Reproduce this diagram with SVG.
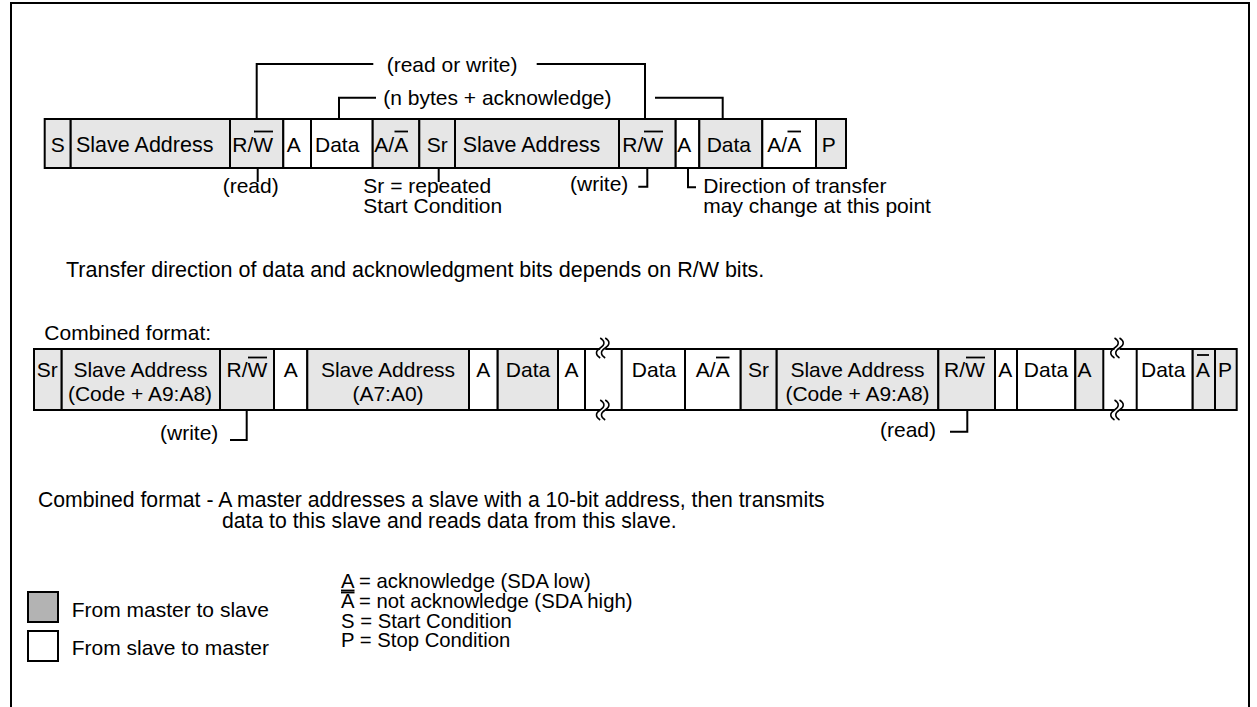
<svg xmlns="http://www.w3.org/2000/svg" xmlns:xlink="http://www.w3.org/1999/xlink" width="1257" height="707" viewBox="0 0 1257 707">
<style>
.t{font-family:"Liberation Sans",Arial,Helvetica,sans-serif;font-size:21px;fill:#000}
.c{text-anchor:middle}
.g{fill:#e6e6e6;stroke:#000;stroke-width:2}
.w{fill:#fff;stroke:#000;stroke-width:2}
.ln{fill:none;stroke:#000;stroke-width:2}
.ov{stroke:#000;stroke-width:1.8}
.s{font-size:20.3px}
</style>
<defs>
<g id="brk">
<rect x="-2.5" y="-2" width="5" height="4" fill="#fff"/>
<path d="M-2.5,-10 c5,3 5,7 0,10 c-5,3 -5,7 0,10 M2.5,-10 c5,3 5,7 0,10 c-5,3 -5,7 0,10" fill="none" stroke="#000" stroke-width="1.5"/>
</g>
</defs>
<rect width="1257" height="707" fill="#fff"/>
<path id="frame" d="M11,712 V3 H1249 V712" fill="none" stroke="#000" stroke-width="2"/>

<g id="row1">
<g id="r1-s"><rect class="g" x="44.7" y="119" width="26" height="49"/><text class="t" x="50.7" y="151.5">S</text></g>
<g id="r1-sa"><rect class="g" x="70.7" y="119" width="159.3" height="49"/><text class="t" x="76" y="151.5" style="font-size:21.5px">Slave Address</text></g>
<g id="r1-rw"><rect class="g" x="230" y="119" width="53.3" height="49"/><text class="t" x="232.3" y="151.5">R/W</text><line class="ov" x1="254" y1="131.5" x2="273" y2="131.5"/></g>
<g id="r1-a"><rect class="w" x="283.3" y="119" width="27.7" height="49"/><text class="t" x="286.7" y="151.5">A</text></g>
<g id="r1-data"><rect class="w" x="311" y="119" width="61.7" height="49"/><text class="t" x="315" y="151.5">Data</text></g>
<g id="r1-aa"><rect class="g" x="372.7" y="119" width="46.6" height="49"/><text class="t" x="374.3" y="151.5">A/A</text><line class="ov" x1="394.5" y1="131.5" x2="408" y2="131.5"/></g>
<g id="r1-sr"><rect class="g" x="419.3" y="119" width="35.7" height="49"/><text class="t" x="426.7" y="151.5">Sr</text></g>
<g id="r1-sa2"><rect class="g" x="455" y="119" width="164" height="49"/><text class="t" x="462.7" y="151.5" style="font-size:21.5px">Slave Address</text></g>
<g id="r1-rw2"><rect class="g" x="619" y="119" width="56.7" height="49"/><text class="t" x="622.3" y="151.5">R/W</text><line class="ov" x1="644" y1="131.5" x2="663" y2="131.5"/></g>
<g id="r1-a2"><rect class="w" x="675.7" y="119" width="23.6" height="49"/><text class="t" x="677.3" y="151.5">A</text></g>
<g id="r1-data2"><rect class="g" x="699.3" y="119" width="63" height="49"/><text class="t" x="706.7" y="151.5">Data</text></g>
<g id="r1-aa2"><rect class="w" x="762.3" y="119" width="53.7" height="49"/><text class="t" x="767.3" y="151.5">A/A</text><line class="ov" x1="787.5" y1="131.5" x2="801" y2="131.5"/></g>
<g id="r1-p"><rect class="g" x="816" y="119" width="30" height="49"/><text class="t" x="821.7" y="151.5">P</text></g>
</g>

<g id="row2">
<g id="r2-sr"><rect class="g" x="34" y="349" width="27.7" height="61"/><text class="t" x="36.7" y="377">Sr</text></g>
<g id="r2-sa"><rect class="g" x="61.7" y="349" width="158.3" height="61"/><text class="t c" x="140.5" y="377">Slave Address</text><text class="t c" x="140" y="401">(Code + A9:A8)</text></g>
<g id="r2-rw"><rect class="g" x="220" y="349" width="54" height="61"/><text class="t c" x="247" y="377">R/W</text><line class="ov" x1="248" y1="357.5" x2="267" y2="357.5"/></g>
<g id="r2-a"><rect class="w" x="274" y="349" width="33.3" height="61"/><text class="t c" x="290.7" y="377">A</text></g>
<g id="r2-sa2"><rect class="g" x="307.3" y="349" width="161.7" height="61"/><text class="t c" x="388" y="377">Slave Address</text><text class="t c" x="388" y="401">(A7:A0)</text></g>
<g id="r2-a2"><rect class="w" x="469" y="349" width="28.7" height="61"/><text class="t c" x="483.3" y="377">A</text></g>
<g id="r2-data"><rect class="g" x="497.7" y="349" width="60.3" height="61"/><text class="t c" x="528" y="377">Data</text></g>
<g id="r2-a3"><rect class="w" x="558" y="349" width="27" height="61"/><text class="t c" x="571.5" y="377">A</text></g>
<g id="r2-gap1"><line class="ln" x1="585" y1="349" x2="621.7" y2="349"/><line class="ln" x1="585" y1="410" x2="621.7" y2="410"/><use xlink:href="#brk" href="#brk" transform="translate(602.7,348)"/><use xlink:href="#brk" href="#brk" transform="translate(602.7,410)"/></g>
<g id="r2-data2"><rect class="w" x="621.7" y="349" width="63.3" height="61"/><text class="t c" x="654" y="377">Data</text></g>
<g id="r2-aa"><rect class="w" x="685" y="349" width="55.7" height="61"/><text class="t c" x="712.8" y="377">A/A</text><line class="ov" x1="716" y1="357.5" x2="729.5" y2="357.5"/></g>
<g id="r2-sr2"><rect class="g" x="740.7" y="349" width="36" height="61"/><text class="t c" x="758.5" y="377">Sr</text></g>
<g id="r2-sa3"><rect class="g" x="776.7" y="349" width="161.6" height="61"/><text class="t c" x="857.5" y="377">Slave Address</text><text class="t c" x="857.5" y="401">(Code + A9:A8)</text></g>
<g id="r2-rw2"><rect class="g" x="938.3" y="349" width="56.7" height="61"/><text class="t" x="944" y="377">R/W</text><line class="ov" x1="966" y1="357.5" x2="985" y2="357.5"/></g>
<g id="r2-a4"><rect class="w" x="995" y="349" width="22" height="61"/><text class="t" x="998.3" y="377">A</text></g>
<g id="r2-data3"><rect class="w" x="1017" y="349" width="58.3" height="61"/><text class="t c" x="1046" y="377">Data</text></g>
<g id="r2-a5"><rect class="g" x="1075.3" y="349" width="28" height="61"/><text class="t" x="1077.5" y="377">A</text></g>
<g id="r2-gap2"><line class="ln" x1="1103.3" y1="349" x2="1136.7" y2="349"/><line class="ln" x1="1103.3" y1="410" x2="1136.7" y2="410"/><use xlink:href="#brk" href="#brk" transform="translate(1117,348)"/><use xlink:href="#brk" href="#brk" transform="translate(1117,410)"/></g>
<g id="r2-data4"><rect class="w" x="1136.7" y="349" width="56" height="61"/><text class="t" x="1141" y="377">Data</text></g>
<g id="r2-na"><rect class="g" x="1192.7" y="349" width="22.3" height="61"/><text class="t" x="1196" y="377">A</text><line class="ov" x1="1197" y1="355" x2="1209" y2="355"/></g>
<g id="r2-p"><rect class="g" x="1215" y="349" width="21.7" height="61"/><text class="t" x="1218" y="377">P</text></g>
</g>

<g id="connectors">
<path class="ln" d="M256.7,119 V64 H373.3"/>
<path class="ln" d="M536.7,64 H645 V119"/>
<path class="ln" d="M339,119 V97.7 H376"/>
<path class="ln" d="M655,97.7 H722.7 V119"/>
<path class="ln" d="M257.7,168 V182"/>
<path class="ln" d="M438.7,168 V182"/>
<path class="ln" d="M638.3,186.7 H647.3 V168"/>
<path class="ln" d="M688,168 V187.3 H696"/>
<path class="ln" d="M230,440 H246.7 V410"/>
<path class="ln" d="M950,431.7 H967.3 V410"/>
</g>

<g id="labels">
<text class="t" x="386.7" y="72">(read or write)</text>
<text class="t" x="383.3" y="105">(n bytes + acknowledge)</text>
<text class="t" x="222.7" y="193">(read)</text>
<text class="t" x="363.3" y="193">Sr = repeated</text>
<text class="t" x="363.3" y="213">Start Condition</text>
<text class="t" x="570" y="191">(write)</text>
<text class="t" x="703.3" y="193">Direction of transfer</text>
<text class="t" x="703.3" y="213">may change at this point</text>
<text class="t" x="66" y="277" style="font-size:21.5px">Transfer direction of data and acknowledgment bits depends on R/W bits.</text>
<text class="t" x="44.3" y="340">Combined format:</text>
<text class="t" x="160" y="440">(write)</text>
<text class="t" x="880" y="437">(read)</text>
<text class="t" x="38" y="507" style="font-size:21.2px">Combined format - A master addresses a slave with a 10-bit address, then transmits</text>
<text class="t" x="222" y="528" style="font-size:21.2px">data to this slave and reads data from this slave.</text>
</g>

<g id="legend">
<g id="leg-m2s"><rect x="28" y="592" width="30" height="30" fill="#b3b3b3" stroke="#000" stroke-width="2"/><text class="t" x="71.7" y="617">From master to slave</text></g>
<g id="leg-s2m"><rect x="28" y="631" width="30" height="30" fill="#fff" stroke="#000" stroke-width="2"/><text class="t" x="71.7" y="655">From slave to master</text></g>
<g id="leg-defs">
<text class="t s" x="341" y="588">A = acknowledge (SDA low)</text>
<line class="ov" x1="341" y1="590.5" x2="354.5" y2="590.5"/>
<line class="ov" x1="341" y1="592.5" x2="354.5" y2="592.5"/>
<text class="t s" x="341" y="608">A = not acknowledge (SDA high)</text>
<text class="t s" x="341" y="627.5">S = Start Condition</text>
<text class="t s" x="341" y="647">P = Stop Condition</text>
</g>
</g>
</svg>
